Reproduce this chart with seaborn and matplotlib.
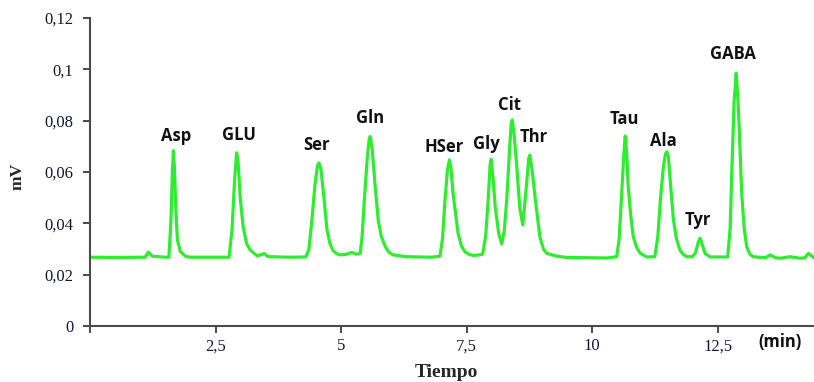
import numpy as np
import pandas as pd
import seaborn as sns
import matplotlib.pyplot as plt

# chromatogram trace (time in min, signal in mV)
tiempo = [0.00, 0.50, 1.00, 1.10, 1.16, 1.24, 1.50,
          1.57, 1.61, 1.64, 1.66, 1.68, 1.71, 1.74, 1.80, 1.90, 2.00,
          2.77, 2.83, 2.88, 2.92, 2.95, 2.99, 3.05, 3.12, 3.19, 3.33, 3.47, 3.55, 4.00,
          4.30, 4.36, 4.42, 4.48, 4.53, 4.56, 4.60, 4.65, 4.72, 4.78, 4.84, 4.92, 4.98, 5.10, 5.21, 5.31,
          5.38, 5.42, 5.46, 5.52, 5.56, 5.58, 5.62, 5.68, 5.74, 5.80, 5.88, 5.95, 6.04, 6.30, 6.80,
          6.97, 7.02, 7.07, 7.12, 7.16, 7.19, 7.23, 7.33, 7.40, 7.47, 7.55, 7.63, 7.75,
          7.82, 7.88, 7.93, 7.97, 7.99, 8.03, 8.07, 8.14, 8.20,
          8.25, 8.30, 8.36, 8.39, 8.41, 8.45, 8.50, 8.56, 8.62,
          8.68, 8.74, 8.76, 8.81, 8.87, 8.96, 9.03, 9.10, 9.30, 9.50, 10.00, 10.30,
          10.49, 10.54, 10.59, 10.63, 10.66, 10.69, 10.72, 10.77, 10.82, 10.89, 10.96, 11.09,
          11.25, 11.31, 11.36, 11.42, 11.46, 11.49, 11.52, 11.55, 11.62, 11.68, 11.75, 11.82, 11.89,
          12.00, 12.06, 12.12, 12.15, 12.19, 12.25, 12.35,
          12.70, 12.75, 12.78, 12.83, 12.87, 12.90, 12.93, 12.98, 13.03, 13.08, 13.14, 13.21,
          13.45, 13.55, 13.65, 13.75, 13.94, 14.14, 14.24, 14.31, 14.42]
senal = [0.0268, 0.0267, 0.0268, 0.0268, 0.0288, 0.0272, 0.0268,
         0.0268, 0.0400, 0.0600, 0.0683, 0.0620, 0.0450, 0.0335, 0.0290, 0.0272, 0.0268,
         0.0268, 0.0380, 0.0570, 0.0675, 0.0640, 0.0503, 0.0386, 0.0320, 0.0296, 0.0273, 0.0282, 0.0270, 0.0268,
         0.0269, 0.0300, 0.0413, 0.0550, 0.0625, 0.0635, 0.0610, 0.0518, 0.0374, 0.0320, 0.0294, 0.0281, 0.0277, 0.0279, 0.0287, 0.0280,
         0.0282, 0.0350, 0.0479, 0.0650, 0.0728, 0.0738, 0.0690, 0.0543, 0.0413, 0.0350, 0.0309, 0.0288, 0.0277, 0.0270, 0.0268,
         0.0272, 0.0340, 0.0491, 0.0610, 0.0647, 0.0610, 0.0518, 0.0362, 0.0310, 0.0289, 0.0279, 0.0275, 0.0277,
         0.0280, 0.0350, 0.0491, 0.0630, 0.0649, 0.0570, 0.0465, 0.0360, 0.0319,
         0.0370, 0.0491, 0.0700, 0.0790, 0.0803, 0.0740, 0.0621, 0.0460, 0.0394,
         0.0520, 0.0655, 0.0666, 0.0600, 0.0491, 0.0348, 0.0300, 0.0283, 0.0272, 0.0267, 0.0266, 0.0265,
         0.0270, 0.0340, 0.0518, 0.0660, 0.0740, 0.0670, 0.0543, 0.0430, 0.0348, 0.0305, 0.0283, 0.0269,
         0.0270, 0.0350, 0.0491, 0.0620, 0.0670, 0.0679, 0.0660, 0.0582, 0.0413, 0.0340, 0.0296, 0.0278, 0.0270,
         0.0270, 0.0285, 0.0330, 0.0342, 0.0320, 0.0283, 0.0269,
         0.0269, 0.0380, 0.0582, 0.0880, 0.0985, 0.0900, 0.0776, 0.0517, 0.0380, 0.0309, 0.0280, 0.0270,
         0.0266, 0.0277, 0.0266, 0.0264, 0.0270, 0.0264, 0.0266, 0.0283, 0.0265]

# peak names and where their labels sit (time, mV)
picos = ['Asp', 'GLU', 'Ser', 'Gln', 'HSer', 'Gly', 'Cit', 'Thr', 'Tau', 'Ala', 'Tyr', 'GABA']
picos_t = [1.71, 2.97, 4.52, 5.58, 7.05, 7.90, 8.36, 8.84, 10.65, 11.42, 12.10, 12.81]
picos_v = [0.0721, 0.0725, 0.0686, 0.0791, 0.0679, 0.0688, 0.0842, 0.0716, 0.0786, 0.0702, 0.0394, 0.1039]

x_ticks = [0, 2.5, 5, 7.5, 10, 12.5]
x_ticklabels = ['', '2,5', '5', '7,5', '10', '12,5']
y_ticks = [0, 0.02, 0.04, 0.06, 0.08, 0.1, 0.12]
y_ticklabels = ['0', '0,02', '0,04', '0,06', '0,08', '0,1', '0,12']

df = pd.DataFrame({'Tiempo': tiempo, 'mV': senal})

sns.set_style('ticks')
plt.rcParams['font.family'] = ['Liberation Serif', 'DejaVu Serif']

fig = plt.figure(figsize=(8.14, 3.82), dpi=100)
ax = fig.add_axes([0.1106, 0.1466, 0.8894, 0.8063])

sns.lineplot(data=df, x='Tiempo', y='mV', color='#30ec30', linewidth=2.3, ax=ax)

ax.set_xlim(0, 14.42)
ax.set_ylim(0, 0.12)
ax.set_xticks(x_ticks)
ax.set_xticklabels(x_ticklabels, fontsize=12, color='#14143a')
ax.set_yticks(y_ticks)
ax.set_yticklabels(y_ticklabels, fontsize=12, color='#14143a')
ax.tick_params(axis='both', length=5, width=1.4, color='#4a4a4a', direction='out')
ax.tick_params(axis='y', pad=7)
ax.tick_params(axis='x', pad=4)

sns.despine(ax=ax, top=True, right=True)
for s in ['left', 'bottom']:
    ax.spines[s].set_linewidth(1.5)
    ax.spines[s].set_color('#4a4a4a')

ax.set_xlabel('Tiempo', fontsize=14, fontweight='bold')
ax.xaxis.set_label_coords(0.4917, -0.1516)
ax.xaxis.label.set_va('center')
ax.set_ylabel('mV', fontsize=12.5, fontweight='bold')
ax.yaxis.set_label_coords(-0.1001, 0.4854)
ax.yaxis.label.set_va('center')

for name, t, v in zip(picos, picos_t, picos_v):
    ax.text(t, v, name, ha='center', va='baseline', fontsize=12,
            fontweight='bold', family='Open Sans', color='#111111')

ax.text(13.75, -0.0081, '(min)', ha='center', va='baseline', fontsize=12,
        fontweight='bold', family='Open Sans', color='#111111', clip_on=False)

fig.savefig('out.png', dpi=100)
